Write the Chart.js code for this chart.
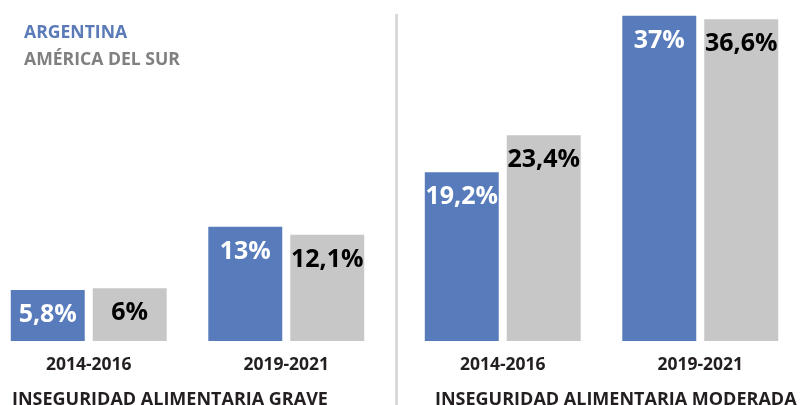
<!DOCTYPE html>
<html>
<head>
<meta charset="utf-8">
<script src="https://cdn.jsdelivr.net/npm/chart.js@4"></script>
<style>
  body { margin: 0; width: 801px; height: 405px; overflow: hidden; background: #fff; font-family: 'Open Sans', sans-serif; }
  .box { position: absolute; top: 0; width: 395px; height: 405px; }
  .legend { position: absolute; left: 24px; font-weight: 700; font-size: 17.6px; line-height: 26px; }
  .title { position: absolute; top: 389px; font-weight: 700; font-size: 18px; line-height: 18px; color: #231f20; white-space: nowrap; }
  .divider { position: absolute; left: 395px; top: 14px; width: 3px; height: 391px; background: #d9d9d9; }
</style>
</head>
<body>
<div class="box" style="left:-10px"><canvas id="grave" width="395" height="405"></canvas></div>
<div class="box" style="left:404px"><canvas id="moderada" width="395" height="405"></canvas></div>
<div class="divider"></div>
<div class="legend" style="top:18px; color:#5a7ab8">ARGENTINA</div>
<div class="legend" style="top:45px; color:#808080">AMÉRICA DEL SUR</div>
<div class="title" style="left:12px">INSEGURIDAD ALIMENTARIA GRAVE</div>
<div class="title" style="left:435px">INSEGURIDAD ALIMENTARIA MODERADA</div>

<script>
// Data
const periods = ['2014-2016', '2019-2021'];
const seriesNames = ['Argentina', 'América del Sur'];
const graveArgentina = [5.8, 13];
const graveSudamerica = [6, 12.1];
const moderadaArgentina = [19.2, 37];
const moderadaSudamerica = [23.4, 36.6];

const BLUE = '#587bbb';
const GRAY = '#c6c7c6';
const TEXT = '#231f20';

// Utility: 5.8 -> "5,8%"
const formatPct = (v) => String(v).replace('.', ',') + '%';

// Draw the value inside the top of each bar
const valueLabels = {
    id: 'valueLabels',
    afterDatasetsDraw(chart) {
        const ctx = chart.ctx;
        ctx.save();
        ctx.font = "700 25px 'Open Sans'";
        ctx.textAlign = 'center';
        ctx.textBaseline = 'middle';
        chart.data.datasets.forEach((ds, i) => {
            const meta = chart.getDatasetMeta(i);
            ctx.fillStyle = i === 0 ? '#ffffff' : '#000000';
            meta.data.forEach((bar, j) => {
                ctx.fillText(formatPct(ds.data[j]), bar.x, bar.y + 25);
            });
        });
        ctx.restore();
    }
};

function makeChart(canvasId, argentina, sudamerica) {
    return new Chart(document.getElementById(canvasId), {
        type: 'bar',
        data: {
            labels: periods,
            datasets: [
                { label: seriesNames[0], data: argentina, backgroundColor: BLUE },
                { label: seriesNames[1], data: sudamerica, backgroundColor: GRAY }
            ]
        },
        options: {
            responsive: false,
            animation: false,
            devicePixelRatio: 1,
            categoryPercentage: 0.83,
            barPercentage: 0.9024,
            layout: { padding: 0 },
            plugins: { legend: { display: false }, tooltip: { enabled: false } },
            scales: {
                x: {
                    grid: { display: false, drawTicks: false },
                    border: { display: false },
                    ticks: { color: TEXT, font: { family: 'Open Sans', size: 17.5, weight: '700' }, padding: 14 },
                    afterFit: (axis) => { axis.height = 64; }
                },
                y: { display: false, min: 0, max: 38.8 }
            }
        },
        plugins: [valueLabels]
    });
}

makeChart('grave', graveArgentina, graveSudamerica);
makeChart('moderada', moderadaArgentina, moderadaSudamerica);
</script>
</body>
</html>
